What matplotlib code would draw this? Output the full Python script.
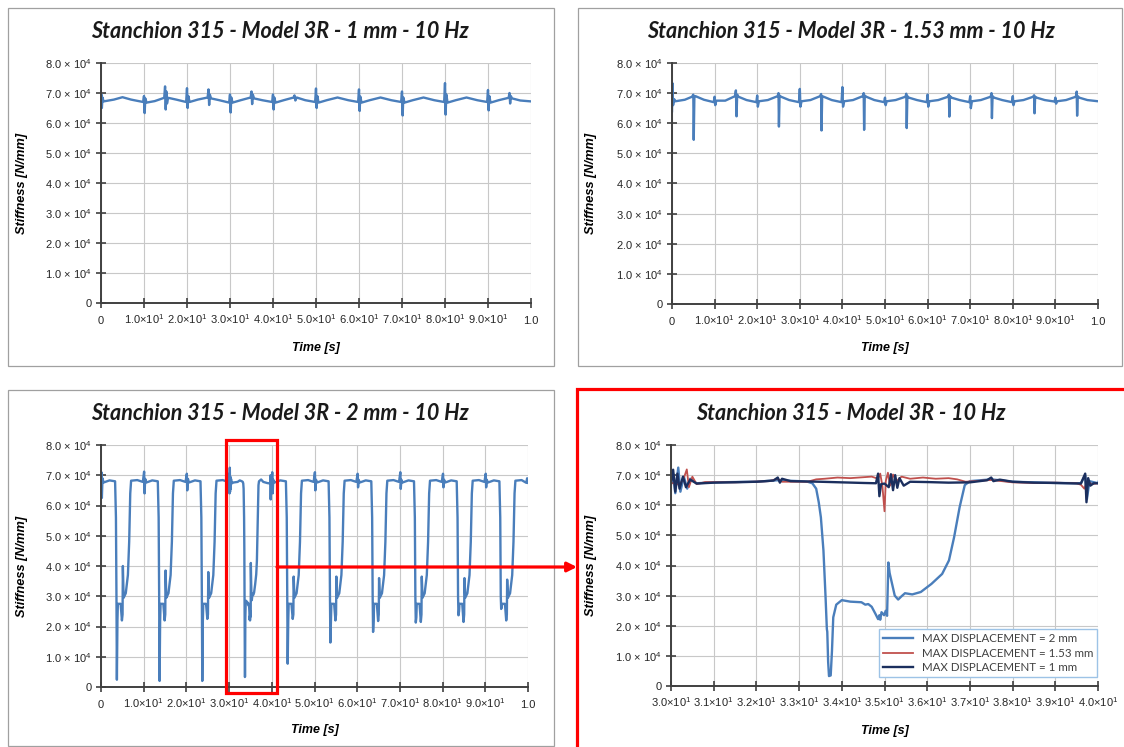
import numpy as np
import matplotlib
matplotlib.use("Agg")
import matplotlib.pyplot as plt
from matplotlib.patches import Rectangle, FancyArrowPatch

W, H = 1124, 747

plt.rcParams["mathtext.fontset"] = "custom"
plt.rcParams["mathtext.rm"] = "Liberation Sans"
plt.rcParams["mathtext.it"] = "Liberation Sans:italic"
plt.rcParams["mathtext.bf"] = "Liberation Sans:bold"

# time [s], stiffness [10^3 N/mm]
DISP_1MM = [
    (0.0, 66.0), (0.1, 69.5), (0.2, 65.0), (0.35, 68.5), (0.6, 67.2), (3.0, 67.8), (5.0, 68.6), (7.0, 67.8),
    (9.8, 67.0), (10.0, 69.0), (10.15, 63.3), (10.3, 68.2), (10.6, 66.8), (12.5, 67.3), (14.7, 68.4),
    (14.9, 72.2), (15.05, 64.5), (15.2, 70.5), (15.35, 66.5), (15.6, 68.4), (17.5, 67.8),
    (19.8, 67.0), (20.0, 71.6), (20.15, 65.0), (20.3, 69.0), (20.6, 67.0), (22.5, 67.8),
    (24.8, 68.5), (25.0, 71.2), (25.15, 66.0), (25.3, 69.5), (25.6, 68.2), (27.5, 67.6),
    (29.8, 66.8), (30.0, 69.5), (30.15, 63.5), (30.3, 68.5), (30.6, 66.8), (32.5, 67.6),
    (34.8, 68.5), (35.0, 70.5), (35.15, 66.3), (35.3, 69.5), (35.6, 68.2), (37.5, 67.6),
    (39.8, 67.0), (40.0, 69.5), (40.15, 64.5), (40.3, 68.5), (40.6, 66.8), (42.5, 67.6),
    (44.8, 68.5), (45.0, 69.2), (45.2, 67.5), (45.5, 68.5), (47.5, 67.6),
    (49.8, 67.0), (50.0, 71.5), (50.15, 65.0), (50.3, 69.0), (50.6, 66.8), (52.5, 67.6),
    (55.0, 68.5), (57.5, 67.6),
    (59.8, 67.0), (60.0, 71.2), (60.15, 64.0), (60.3, 68.8), (60.6, 66.8), (62.5, 67.6),
    (65.0, 68.5), (67.5, 67.6),
    (69.8, 67.0), (70.0, 70.5), (70.15, 62.5), (70.3, 68.5), (70.6, 66.8), (72.5, 67.6),
    (75.0, 68.5), (77.5, 67.6),
    (79.8, 67.0), (80.0, 73.3), (80.15, 62.8), (80.3, 69.5), (80.6, 66.8), (82.5, 67.6),
    (85.0, 68.5), (87.5, 67.6),
    (89.8, 67.0), (90.0, 71.0), (90.15, 64.2), (90.3, 69.0), (90.6, 66.8), (92.5, 67.6),
    (94.8, 68.4), (95.0, 70.0), (95.15, 66.5), (95.3, 69.0), (95.6, 68.2), (97.5, 67.5), (100.0, 67.2),
]

DISP_153MM = [
    (0.0, 64.0), (0.1, 73.3), (0.25, 66.0), (0.5, 68.0), (0.8, 67.3), (3.0, 67.8),
    (4.7, 68.8), (5.0, 69.5), (5.1, 54.5), (5.25, 68.5), (5.5, 69.0), (7.5, 67.8),
    (9.8, 67.0), (10.0, 68.8), (10.15, 66.0), (10.4, 67.5), (12.5, 67.5),
    (14.8, 69.0), (15.0, 70.9), (15.15, 62.3), (15.3, 69.5), (15.6, 68.8), (17.5, 67.7),
    (19.8, 67.0), (20.0, 69.2), (20.15, 65.5), (20.4, 67.3), (22.5, 67.7),
    (24.8, 69.0), (25.0, 70.0), (25.1, 58.9), (25.25, 69.2), (25.6, 68.8), (27.5, 67.7),
    (29.8, 67.0), (30.0, 71.4), (30.15, 65.5), (30.4, 67.3), (32.5, 67.7),
    (34.8, 69.0), (35.0, 69.7), (35.1, 57.6), (35.25, 69.0), (35.6, 68.8), (37.5, 67.7),
    (39.8, 67.0), (40.0, 72.0), (40.15, 65.5), (40.4, 67.3), (42.5, 67.7),
    (44.8, 69.0), (45.0, 70.0), (45.1, 57.8), (45.25, 69.2), (45.6, 68.8), (47.5, 67.7),
    (49.8, 67.0), (50.0, 68.5), (50.15, 66.0), (50.4, 67.3), (52.5, 67.7),
    (54.8, 68.8), (55.0, 69.8), (55.1, 58.4), (55.25, 69.0), (55.6, 68.5), (57.5, 67.7),
    (59.8, 67.0), (60.0, 69.5), (60.15, 65.5), (60.4, 67.3), (62.5, 67.7),
    (64.8, 68.8), (65.0, 69.5), (65.1, 62.2), (65.25, 69.0), (65.6, 68.5), (67.5, 67.7),
    (69.8, 67.0), (70.0, 69.0), (70.15, 65.0), (70.4, 67.3), (72.5, 67.7),
    (74.8, 68.8), (75.0, 70.0), (75.1, 61.7), (75.25, 69.0), (75.6, 68.5), (77.5, 67.7),
    (79.8, 67.0), (80.0, 69.0), (80.15, 66.0), (80.4, 67.3), (82.5, 67.7),
    (84.8, 68.8), (85.0, 69.3), (85.1, 63.3), (85.25, 68.8), (85.6, 68.5), (87.5, 67.7),
    (89.8, 67.2), (90.0, 68.5), (90.15, 66.5), (90.4, 67.3), (92.5, 67.7),
    (94.8, 68.8), (95.0, 70.5), (95.1, 62.5), (95.25, 69.0), (95.6, 68.5), (97.5, 67.7), (100.0, 67.3),
]

DISP_2MM = [
    # 0 - 10 s
    (0.0, 63.0), (0.1, 71.0), (0.2, 62.5), (0.35, 69.0), (0.6, 67.6), (2.0, 68.3), (3.3, 68.0),
    (3.5, 56.0), (3.62, 30.0), (3.72, 2.4), (3.85, 22.0), (3.95, 27.5), (4.6, 27.5), (4.9, 22.0),
    (5.05, 24.0), (5.12, 40.0), (5.3, 29.5), (5.8, 31.0), (6.3, 37.0), (6.6, 48.0), (6.85, 64.0),
    (7.05, 68.2), (8.5, 68.4), (9.8, 67.8),
    # 10 - 20 s
    (10.1, 71.2), (10.2, 64.0), (10.35, 68.8), (10.6, 67.6), (12.0, 68.3), (13.3, 68.0),
    (13.5, 56.0), (13.62, 30.0), (13.72, 2.0), (13.85, 22.0), (13.95, 27.5), (14.6, 27.5), (14.9, 22.0),
    (15.05, 24.0), (15.12, 38.5), (15.3, 29.5), (15.8, 31.0), (16.3, 37.0), (16.6, 48.0), (16.85, 64.0),
    (17.05, 68.2), (18.5, 68.4), (19.8, 67.8),
    # 20 - 30 s
    (20.1, 70.5), (20.2, 65.0), (20.35, 68.8), (20.6, 67.6), (22.0, 68.3), (23.3, 68.0),
    (23.5, 56.0), (23.62, 30.0), (23.72, 2.0), (23.85, 22.0), (23.95, 27.5), (24.6, 27.5), (24.9, 22.5),
    (25.05, 24.0), (25.12, 38.0), (25.3, 29.5), (25.8, 31.0), (26.3, 37.0), (26.6, 48.0), (26.85, 64.0),
    (27.05, 68.2), (28.5, 68.4), (29.8, 67.8),
    # 30 - 40 s (detail shown in the zoomed chart)
    (30.0, 67.5), (30.05, 70.5), (30.1, 64.0), (30.17, 72.5), (30.22, 64.5), (30.3, 69.5), (30.38, 65.5),
    (30.45, 68.8), (30.6, 67.3), (31.0, 67.6), (32.0, 67.8), (32.5, 68.3), (33.0, 68.0), (33.2, 67.8),
    (33.31, 67.3), (33.4, 65.5), (33.46, 61.0), (33.51, 56.0), (33.57, 45.0), (33.62, 29.4),
    (33.65, 18.9), (33.66, 18.0), (33.68, 8.0), (33.7, 3.3), (33.74, 3.5), (33.77, 11.7), (33.8, 22.8),
    (33.87, 27.0), (34.0, 28.5), (34.2, 28.0), (34.46, 27.8), (34.55, 27.0), (34.62, 27.2), (34.7, 26.3),
    (34.79, 23.9), (34.85, 22.2), (34.88, 23.5), (34.9, 22.0), (34.93, 24.5), (34.99, 23.5), (35.03, 25.0),
    (35.06, 23.3), (35.09, 41.0), (35.12, 37.5), (35.16, 35.0), (35.24, 30.0), (35.32, 28.7), (35.4, 29.8),
    (35.48, 30.8), (35.65, 30.4), (35.85, 31.2), (36.1, 33.9), (36.35, 37.2), (36.51, 41.7), (36.63, 49.4),
    (36.76, 59.4), (36.88, 66.7), (37.0, 68.0), (37.5, 68.6), (38.0, 67.8), (39.0, 67.4), (39.6, 67.3),
    (39.7, 70.0), (39.74, 62.0), (39.8, 68.0), (40.0, 67.3),
    # 40 - 50 s
    (40.1, 71.0), (40.2, 64.0), (40.35, 68.5), (40.6, 67.6), (42.0, 68.3), (43.3, 68.0),
    (43.5, 56.0), (43.62, 30.0), (43.72, 7.7), (43.85, 22.0), (43.95, 27.5), (44.6, 27.5), (44.9, 22.5),
    (45.05, 24.0), (45.12, 36.5), (45.3, 29.5), (45.8, 31.0), (46.3, 37.0), (46.6, 48.0), (46.85, 64.0),
    (47.05, 68.2), (48.5, 68.4), (49.8, 67.8),
    # 50 - 60 s
    (50.1, 71.0), (50.2, 65.0), (50.35, 68.5), (50.6, 67.6), (52.0, 68.3), (53.3, 68.0),
    (53.5, 56.0), (53.62, 30.0), (53.72, 14.7), (53.85, 22.0), (53.95, 27.5), (54.6, 27.5), (54.9, 22.0),
    (55.05, 24.0), (55.12, 36.5), (55.3, 29.5), (55.8, 31.0), (56.3, 37.0), (56.6, 48.0), (56.85, 64.0),
    (57.05, 68.2), (58.5, 68.4), (59.8, 67.8),
    # 60 - 70 s
    (60.1, 70.5), (60.2, 66.0), (60.35, 68.5), (60.6, 67.6), (62.0, 68.3), (63.3, 68.0),
    (63.5, 56.0), (63.62, 30.0), (63.72, 18.2), (63.85, 22.0), (63.95, 27.5), (64.6, 27.5), (64.9, 21.8),
    (65.05, 24.0), (65.12, 36.0), (65.3, 29.5), (65.8, 31.0), (66.3, 37.0), (66.6, 48.0), (66.85, 64.0),
    (67.05, 68.2), (68.5, 68.4), (69.8, 67.8),
    # 70 - 80 s
    (70.1, 71.0), (70.2, 65.5), (70.35, 68.5), (70.6, 67.6), (72.0, 68.3), (73.3, 68.0),
    (73.5, 56.0), (73.62, 30.0), (73.72, 21.3), (73.85, 23.0), (73.95, 27.5), (74.6, 27.5), (74.9, 21.5),
    (75.05, 24.0), (75.12, 36.5), (75.3, 29.5), (75.8, 31.0), (76.3, 37.0), (76.6, 48.0), (76.85, 64.0),
    (77.05, 68.2), (78.5, 68.4), (79.8, 67.8),
    # 80 - 90 s
    (80.1, 70.5), (80.2, 66.0), (80.35, 68.5), (80.6, 67.6), (82.0, 68.3), (83.3, 68.0),
    (83.5, 56.0), (83.62, 30.0), (83.72, 23.7), (83.85, 25.0), (83.95, 27.5), (84.6, 27.5), (84.9, 21.5),
    (85.05, 24.0), (85.12, 36.0), (85.3, 29.5), (85.8, 31.0), (86.3, 37.0), (86.6, 48.0), (86.85, 64.0),
    (87.05, 68.2), (88.5, 68.4), (89.8, 67.8),
    # 90 - 100 s
    (90.1, 70.5), (90.2, 66.0), (90.35, 68.5), (90.6, 67.6), (92.0, 68.3), (93.3, 68.0),
    (93.5, 56.0), (93.62, 30.0), (93.72, 25.8), (93.85, 26.5), (93.95, 27.5), (94.6, 27.5), (94.9, 22.0),
    (95.05, 24.0), (95.12, 35.5), (95.3, 29.5), (95.8, 31.0), (96.3, 37.0), (96.6, 48.0), (96.85, 64.0),
    (97.05, 68.2), (98.5, 68.4), (99.6, 67.5), (99.8, 69.0), (100.0, 67.5),
]

ZOOM_153MM = [
    (30.0, 67.5), (30.2, 66.8), (30.3, 69.0), (30.37, 71.9), (30.42, 66.0), (30.5, 69.5), (30.6, 67.0),
    (30.8, 67.7), (31.5, 67.6), (32.3, 68.0), (32.5, 68.8), (32.6, 67.8), (33.2, 67.8), (33.4, 68.6),
    (33.6, 68.8), (33.9, 69.2), (34.2, 69.0), (34.5, 69.3), (34.7, 69.5), (34.85, 68.8), (34.9, 70.5),
    (34.95, 66.5), (35.0, 58.0), (35.03, 68.0), (35.08, 70.8), (35.13, 66.5), (35.2, 70.2), (35.28, 68.0),
    (35.4, 69.5), (35.6, 68.8), (35.9, 69.2), (36.2, 68.8), (36.5, 69.0), (36.7, 68.6), (36.9, 67.8),
    (37.5, 68.4), (38.0, 67.6), (38.5, 67.4), (39.0, 67.5), (39.5, 67.3), (39.6, 66.8), (39.68, 65.5),
    (39.75, 68.0), (39.85, 67.0), (40.0, 67.3),
]

ZOOM_1MM = [
    (30.0, 67.0), (30.05, 71.8), (30.1, 64.5), (30.15, 70.5), (30.2, 65.5), (30.28, 69.5), (30.35, 66.0),
    (30.45, 68.5), (30.6, 67.2), (31.0, 67.5), (32.0, 67.8), (32.4, 68.2), (32.5, 69.2), (32.55, 67.5),
    (32.6, 68.8), (32.8, 68.0), (33.5, 67.8), (34.0, 67.6), (34.5, 67.4), (34.8, 67.3), (34.85, 70.5),
    (34.88, 63.0), (34.92, 67.0), (35.0, 67.2), (35.1, 66.0), (35.15, 70.3), (35.2, 65.0), (35.25, 70.0),
    (35.3, 65.8), (35.35, 69.0), (35.45, 66.5), (35.6, 67.8), (36.0, 67.7), (36.5, 67.5), (37.0, 67.6),
    (37.4, 68.3), (37.5, 69.2), (37.55, 68.0), (37.7, 68.5), (38.0, 67.8), (38.5, 67.5), (39.0, 67.4),
    (39.6, 67.2), (39.7, 70.5), (39.73, 61.0), (39.77, 69.0), (39.82, 66.5), (39.9, 67.3), (40.0, 67.3),
]

Y_TICKS = [0, 10000, 20000, 30000, 40000, 50000, 60000, 70000, 80000]
Y_LABELS = ["0", "1.0 × 10$^4$", "2.0 × 10$^4$", "3.0 × 10$^4$", "4.0 × 10$^4$",
            "5.0 × 10$^4$", "6.0 × 10$^4$", "7.0 × 10$^4$", "8.0 × 10$^4$"]
X_TICKS_FULL = [0, 10, 20, 30, 40, 50, 60, 70, 80, 90, 100]
X_LABELS_FULL = ["0", "1.0×10$^1$", "2.0×10$^1$", "3.0×10$^1$", "4.0×10$^1$", "5.0×10$^1$",
                 "6.0×10$^1$", "7.0×10$^1$", "8.0×10$^1$", "9.0×10$^1$", "1.0"]
X_TICKS_ZOOM = [30, 31, 32, 33, 34, 35, 36, 37, 38, 39, 40]
X_LABELS_ZOOM = ["3.0×10$^1$", "3.1×10$^1$", "3.2×10$^1$", "3.3×10$^1$", "3.4×10$^1$", "3.5×10$^1$",
                 "3.6×10$^1$", "3.7×10$^1$", "3.8×10$^1$", "3.9×10$^1$", "4.0×10$^1$"]

BLUE = "#4A7EBB"
RED = "#C0504D"
NAVY = "#1B2F5E"
RED_MARK = "#FF0000"

TICK_FONT = ["Liberation Sans", "DejaVu Sans"]
TITLE_FONT = ["Lato", "DejaVu Sans"]


def series(points):
    arr = np.array(points, dtype=float)
    return arr[:, 0], arr[:, 1] * 1e3


def fx(x):
    return x / W


def fy(y):
    return 1 - y / H


def px_axes(fig, x0, y0, x1, y1):
    return fig.add_axes([fx(x0), fy(y1), (x1 - x0) / W, (y1 - y0) / H])


def style_axes(ax, xticks, xlabels, ylabel_x, xlabel_y):
    ax.set_ylim(0, 80000)
    ax.set_xlim(xticks[0], xticks[-1])
    ax.set_yticks(Y_TICKS)
    ax.set_yticklabels(Y_LABELS, family=TICK_FONT, fontsize=8, color="#262626",
                       va="center_baseline")
    ax.set_xticks(xticks)
    ax.set_xticklabels(xlabels, family=TICK_FONT, fontsize=8, color="#262626",
                       va="baseline")
    ax.tick_params(direction="inout", length=7, width=1.2, color="#404040", pad=3)
    ax.tick_params(axis="x", pad=11.5)
    for side in ("top", "right"):
        ax.spines[side].set_visible(False)
    for side in ("left", "bottom"):
        ax.spines[side].set_color("#404040")
        ax.spines[side].set_linewidth(1.4)
    ax.grid(True, color="#c8c8c8", linewidth=0.8)
    ax.set_axisbelow(True)
    ax.set_ylabel("Stiffness [N/mm]", family=TICK_FONT, fontsize=9.2,
                  fontweight="bold", fontstyle="italic")
    ax.set_xlabel("Time [s]", family=TICK_FONT, fontsize=9,
                  fontweight="bold", fontstyle="italic")
    ax.yaxis.set_label_coords(ylabel_x, 0.5)
    ax.xaxis.set_label_coords(0.5, xlabel_y)


def panel_frame(fig, x0, y0, x1, y1):
    fig.patches.append(Rectangle((fx(x0), fy(y1)), (x1 - x0) / W, (y1 - y0) / H,
                                 transform=fig.transFigure, fill=False,
                                 edgecolor="#a0a0a0", linewidth=0.9))


def title(fig, text, cx, cy):
    fig.text(fx(cx), fy(cy), text, ha="center", va="center", family=TITLE_FONT,
             fontsize=15.5, fontweight="bold", fontstyle="italic", color="#1a1a1a")


fig = plt.figure(figsize=(W / 100, H / 100), dpi=100)
fig.patch.set_facecolor("white")

panel_frame(fig, 8, 8, 554, 366)
panel_frame(fig, 578, 8, 1122, 366)
panel_frame(fig, 8, 390, 554, 746)

t1, k1 = series(DISP_1MM)
t15, k15 = series(DISP_153MM)
t2, k2 = series(DISP_2MM)
tz15, kz15 = series(ZOOM_153MM)
tz1, kz1 = series(ZOOM_1MM)

# top left: 1 mm
ax1 = px_axes(fig, 101, 63, 531, 303)
ax1.plot(t1, k1, color=BLUE, linewidth=1.7)
style_axes(ax1, X_TICKS_FULL, X_LABELS_FULL, (28 - 101) / 430, (303 - 342) / 240)
title(fig, "Stanchion 315 - Model 3R - 1 mm - 10 Hz", 280, 32)

# top right: 1.53 mm
ax2 = px_axes(fig, 672, 63, 1098, 304)
ax2.plot(t15, k15, color=BLUE, linewidth=1.7)
style_axes(ax2, X_TICKS_FULL, X_LABELS_FULL, (597 - 672) / 426, (304 - 342) / 241)
title(fig, "Stanchion 315 - Model 3R - 1.53 mm - 10 Hz", 851, 32)

# bottom left: 2 mm
ax3 = px_axes(fig, 101, 445, 528, 687)
ax3.plot(t2, k2, color=BLUE, linewidth=1.7)
style_axes(ax3, X_TICKS_FULL, X_LABELS_FULL, (28 - 101) / 427, (687 - 724) / 242)
title(fig, "Stanchion 315 - Model 3R - 2 mm - 10 Hz", 280, 414)

# bottom right: zoom on 30-40 s, all three displacements
ax4 = px_axes(fig, 671, 445, 1098, 686)
ax4.plot(t2, k2, color=BLUE, linewidth=1.7, label="MAX DISPLACEMENT = 2 mm")
ax4.plot(tz15, kz15, color=RED, linewidth=1.3, label="MAX DISPLACEMENT = 1.53 mm")
ax4.plot(tz1, kz1, color=NAVY, linewidth=1.7, label="MAX DISPLACEMENT = 1 mm")
style_axes(ax4, X_TICKS_ZOOM, X_LABELS_ZOOM, (597 - 671) / 427, (686 - 725) / 241)
title(fig, "Stanchion 315 - Model 3R - 10 Hz", 851, 414)
leg = ax4.legend(loc="lower right", bbox_to_anchor=(0.998, 0.037), borderaxespad=0,
                 prop={"family": TITLE_FONT, "size": 8.3}, handlelength=2.6,
                 labelspacing=0.3, borderpad=0.35, fancybox=False, framealpha=1)
leg.get_frame().set_edgecolor("#9DC3E6")
leg.get_frame().set_linewidth(1.0)
for txt in leg.get_texts():
    txt.set_color("#404040")

# red highlight box, arrow and zoom frame
fig.patches.append(Rectangle((fx(226), fy(693)), 51 / W, 253 / H, transform=fig.transFigure,
                             fill=False, edgecolor=RED_MARK, linewidth=2.3))
fig.patches.append(FancyArrowPatch((fx(277), fy(567)), (fx(577), fy(567)),
                                   transform=fig.transFigure, arrowstyle="-|>",
                                   mutation_scale=14, color=RED_MARK, linewidth=2.3,
                                   shrinkA=0, shrinkB=0))
fig.patches.append(Rectangle((fx(577), fy(760)), 600 / W, 371 / H, transform=fig.transFigure,
                             fill=False, edgecolor=RED_MARK, linewidth=2.3, clip_on=False))

fig.savefig("out.png", dpi=100)
